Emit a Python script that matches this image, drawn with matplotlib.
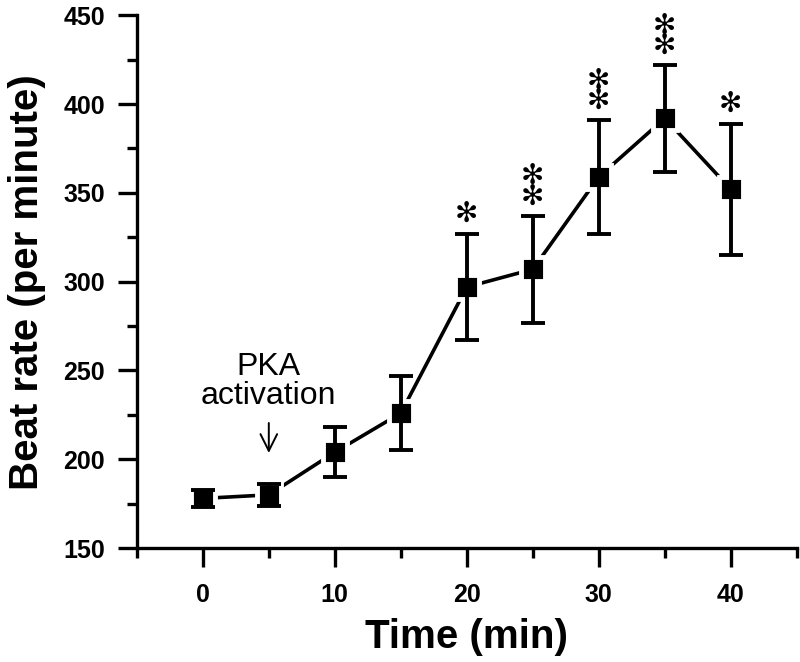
import numpy as np
import matplotlib.pyplot as plt

plt.rcParams['font.family'] = ['Liberation Sans', 'DejaVu Sans']

time = [0, 5, 10, 15, 20, 25, 30, 35, 40]
rate = [178, 180, 204, 226, 297, 307, 359, 392, 352]
err = [5, 6, 14, 21, 30, 30, 32, 30, 37]
n_stars = [0, 0, 0, 0, 1, 2, 2, 2, 1]

fig = plt.figure(figsize=(8, 6.62), dpi=100)
ax = fig.add_axes([0.171, 0.172, 0.825, 0.805])

# line + square markers, white edge gives the small gap where the line meets the box
ax.plot(time, rate, color='black', lw=2.6, marker='s', markersize=17,
        markerfacecolor='black', markeredgecolor='white', markeredgewidth=3.5, zorder=2)
ax.errorbar(time, rate, yerr=err, fmt='none', ecolor='black', elinewidth=2.8,
            capsize=8.3, capthick=2.8, zorder=3)

for t, r, e, n in zip(time, rate, err, n_stars):
    if n:
        ax.annotate('\n'.join(['\u273b'] * n), xy=(t, r + e), xytext=(0, 4),
                    textcoords='offset points', ha='center', va='bottom',
                    fontsize=20, linespacing=0.64, family='DejaVu Sans')

ax.text(5, 244, 'PKA\nactivation', ha='center', va='center', fontsize=23, linespacing=0.95)
ax.annotate('', xy=(5, 202), xytext=(5, 222),
            arrowprops=dict(arrowstyle='->', lw=1.4, color='black', mutation_scale=30))

ax.set_xlim(-5, 45)
ax.set_ylim(150, 450)
ax.set_xticks([0, 10, 20, 30, 40])
ax.set_xticks([-5, 5, 15, 25, 35, 45], minor=True)
ax.set_yticks(np.arange(150, 451, 50))
ax.set_yticks(np.arange(175, 450, 50), minor=True)

for side in ['top', 'right']:
    ax.spines[side].set_visible(False)
for side in ['left', 'bottom']:
    ax.spines[side].set_linewidth(2.4)

ax.tick_params(which='major', direction='out', length=14, width=2.4, labelsize=18)
ax.tick_params(which='minor', direction='out', length=7.5, width=2.4)
ax.tick_params(axis='x', which='major', pad=11)
ax.tick_params(axis='y', which='major', pad=9)
for lab in ax.get_xticklabels() + ax.get_yticklabels():
    lab.set_fontweight('bold')

ax.set_xlabel('Time (min)', fontsize=29, fontweight='bold', labelpad=8)
ax.set_ylabel('Beat rate (per minute)', fontsize=29, fontweight='bold', labelpad=12)

fig.savefig('out.png', dpi=100)
